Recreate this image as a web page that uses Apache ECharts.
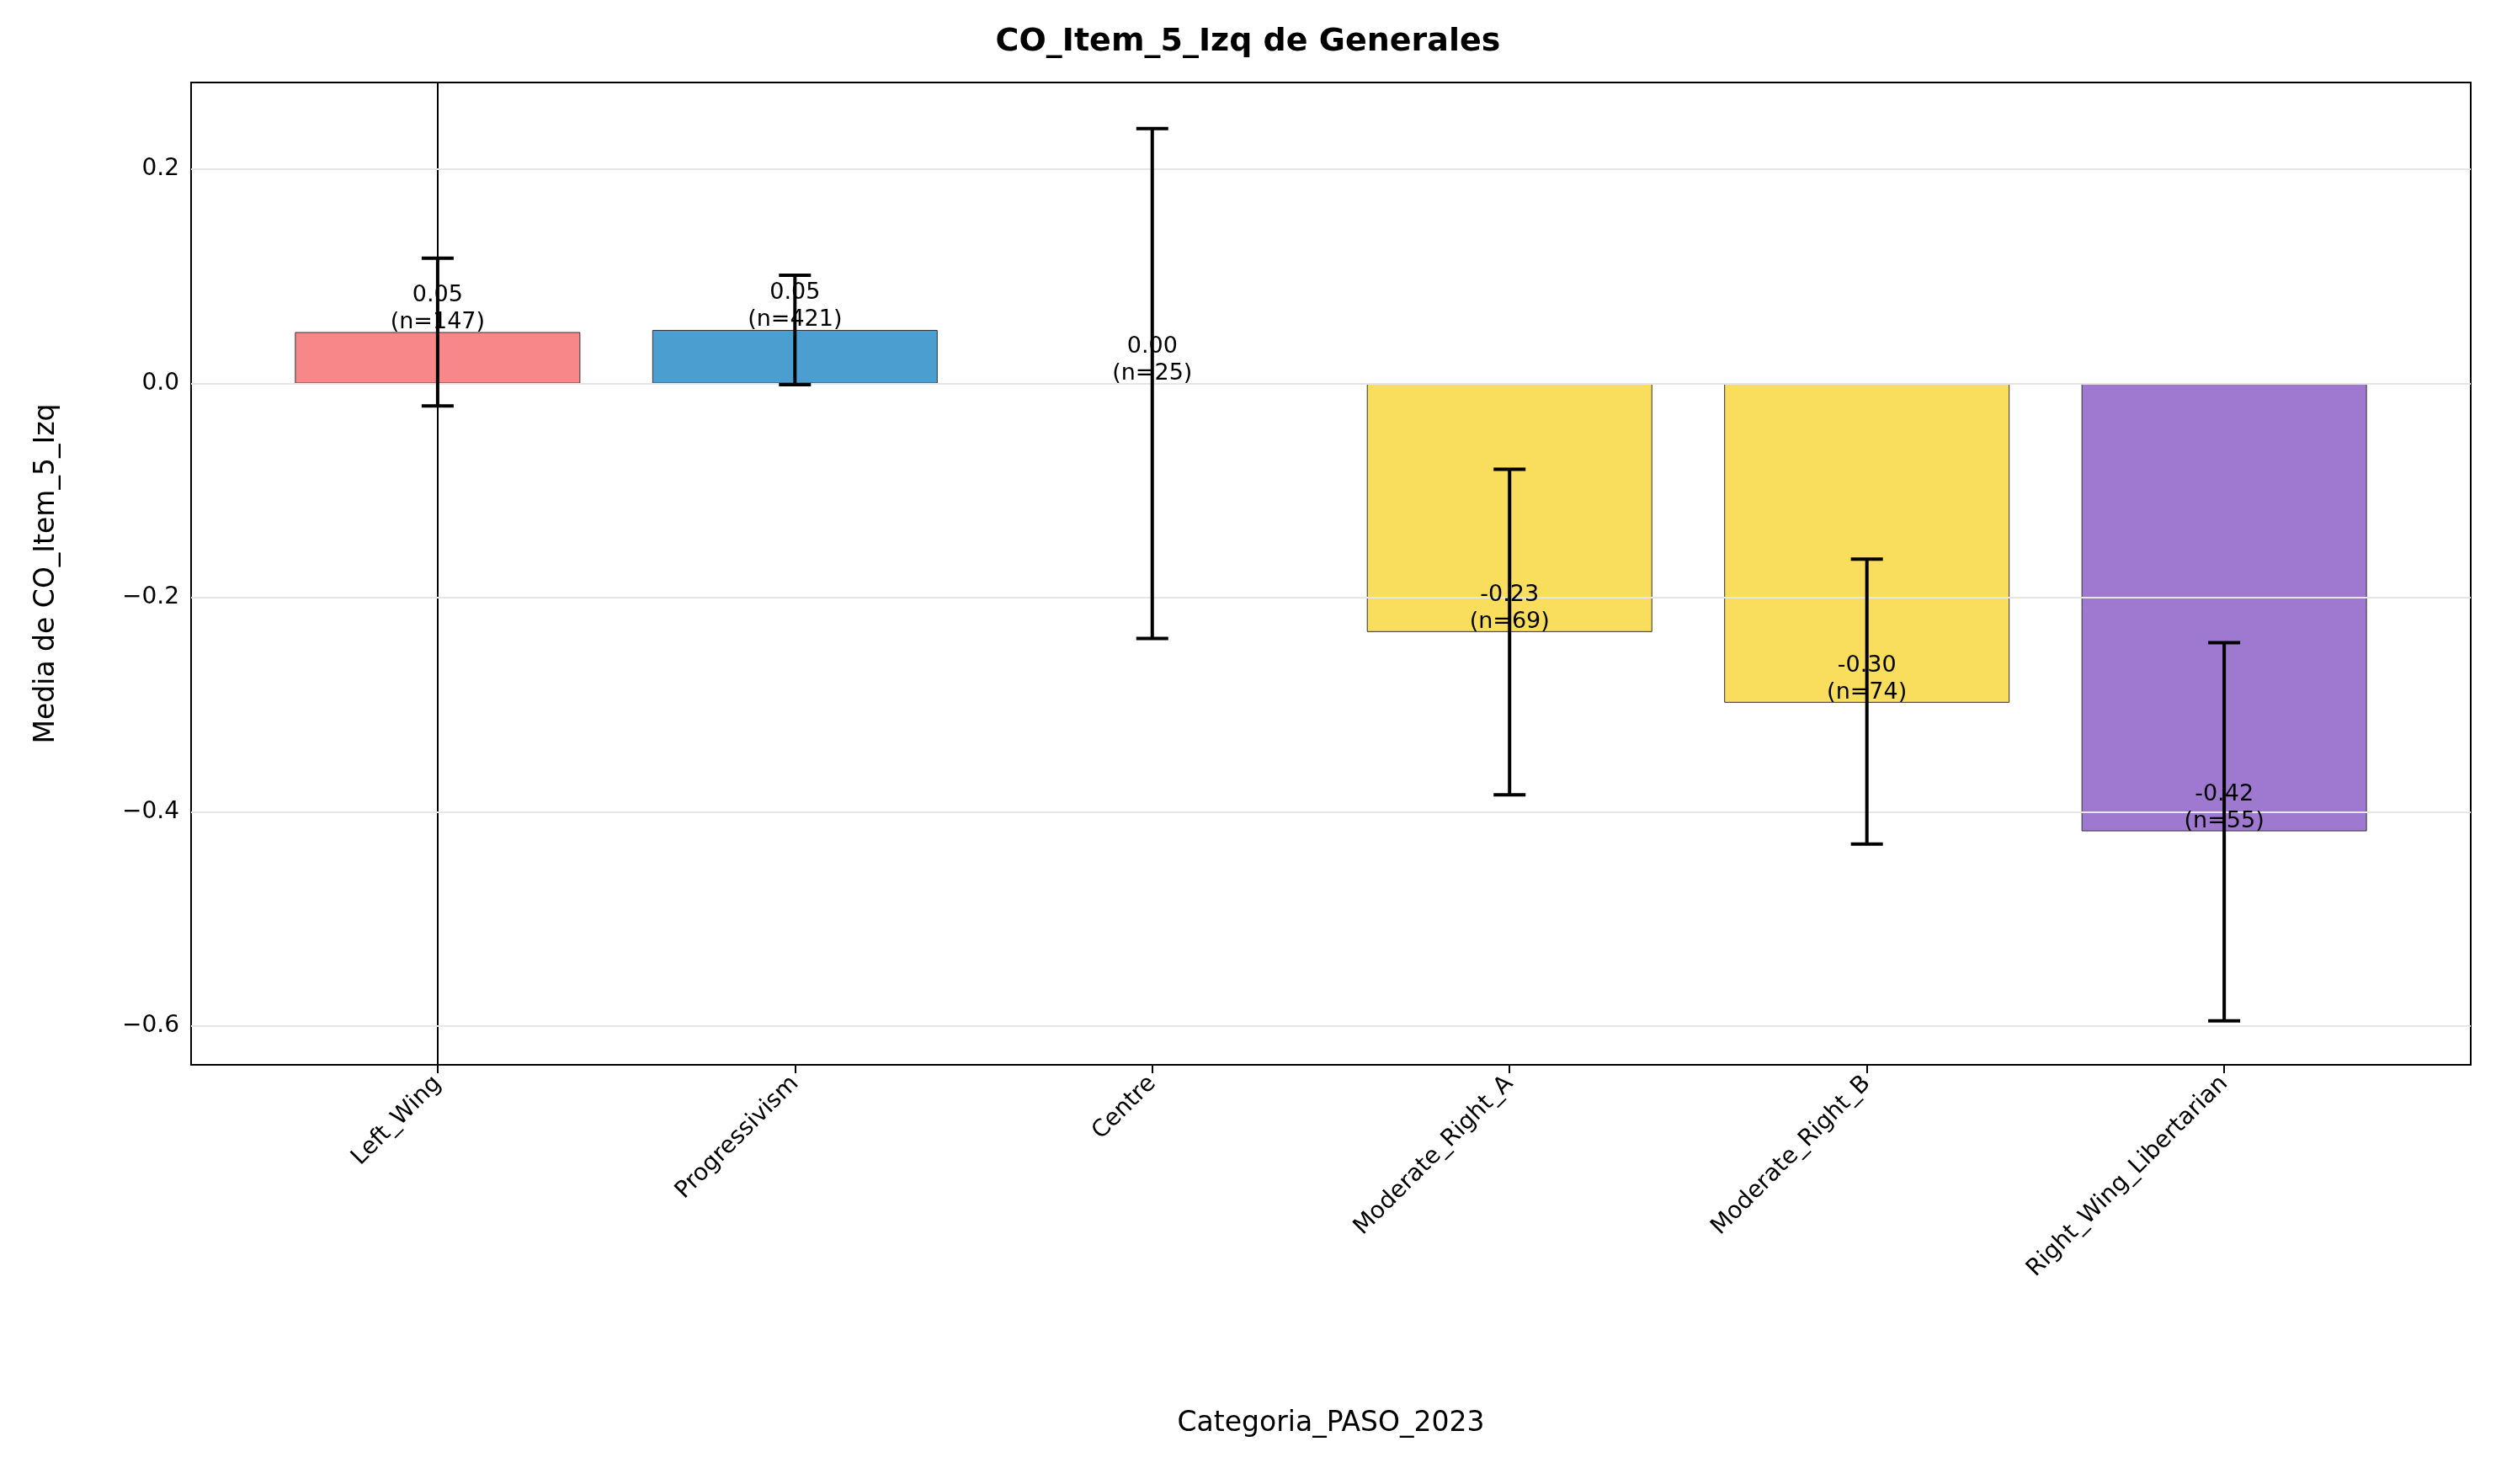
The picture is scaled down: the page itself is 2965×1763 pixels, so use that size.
<!DOCTYPE html>
<html><head><meta charset="utf-8">
<script src="https://cdn.jsdelivr.net/npm/echarts@6/dist/echarts.min.js"></script>
<style>html,body{margin:0;background:#fff}#c{width:2965px;height:1763px}</style>
</head><body><div id="c"></div>
<script>
const categories=['Left_Wing','Progressivism','Centre','Moderate_Right_A','Moderate_Right_B','Right_Wing_Libertarian'];
const means=[0.048,0.050,0.000,-0.232,-0.298,-0.418];
const errLow=[-0.021,-0.001,-0.238,-0.384,-0.430,-0.595];
const errHigh=[0.117,0.101,0.238,-0.080,-0.164,-0.242];
const counts=[147,421,25,69,74,55];
const labels=['0.05','0.05','0.00','-0.23','-0.30','-0.42'];
const colors=['#F8878A','#4A9FD0','#888888','#F8DE5C','#F8DE5C','#9F78D0'];
const yTicks=[0.2,0,-0.2,-0.4,-0.6];
const xTicks=[0,1,2,3,4,5];
const font='DejaVu Sans';
const chart=echarts.init(document.getElementById('c'));
chart.setOption({
  animation:false,
  title:{text:'CO_Item_5_Izq de Generales',left:'center',top:26,textStyle:{fontFamily:font,fontSize:38,fontWeight:'bold',color:'#000'}},
  grid:{left:227,right:30,top:98,bottom:498,show:true,borderColor:'#000',borderWidth:2},
  xAxis:{type:'value',min:-0.69,max:5.69,name:'Categoria_PASO_2023',nameLocation:'middle',nameGap:410,
    nameTextStyle:{fontFamily:font,fontSize:33,color:'#000'},
    axisLine:{onZero:false,lineStyle:{color:'#000',width:2}},
    axisTick:{length:10,lineStyle:{color:'#000',width:2},customValues:xTicks},
    axisLabel:{rotate:45,fontFamily:font,fontSize:28,color:'#000',margin:18,customValues:xTicks,formatter:v=>categories[Math.round(v)]},
    splitLine:{show:false}},
  yAxis:{type:'value',min:-0.636,max:0.281,name:'Media de CO_Item_5_Izq',nameLocation:'middle',nameGap:155,
    nameTextStyle:{fontFamily:font,fontSize:33,color:'#000'},
    axisLine:{show:true,lineStyle:{color:'#000',width:2}},
    axisTick:{show:true,length:10,lineStyle:{color:'#000',width:2},customValues:yTicks},
    axisLabel:{fontFamily:font,fontSize:28,color:'#000',margin:14,customValues:yTicks,
      formatter:v=>(v<0?'\u2212'+Math.abs(v).toFixed(1):v.toFixed(1))},
    splitLine:{show:false}},
  series:[
    {type:'line',data:[],z:0,silent:true,
     markLine:{silent:true,symbol:'none',label:{show:false},lineStyle:{color:'#e6e6e6',type:'solid',width:2},data:yTicks.map(y=>({yAxis:y}))}},
    {type:'bar',barWidth:339,data:means.map((v,i)=>({value:[i,v],itemStyle:{color:colors[i],borderColor:'#333',borderWidth:1}})),z:2},
    {type:'custom',z:5,data:categories.map((c,i)=>[i,errLow[i],errHigh[i],means[i]]),
     renderItem:(p,api)=>{
       const i=api.value(0);const lo=api.coord([i,api.value(1)]);const hi=api.coord([i,api.value(2)]);const m=api.coord([i,api.value(3)]);
       const x=lo[0],w=19,st={stroke:'#000',lineWidth:4};
       return {type:'group',children:[
         {type:'line',shape:{x1:x,y1:lo[1],x2:x,y2:hi[1]},style:st},
         {type:'line',shape:{x1:x-w,y1:lo[1],x2:x+w,y2:lo[1]},style:st},
         {type:'line',shape:{x1:x-w,y1:hi[1],x2:x+w,y2:hi[1]},style:st},
         {type:'text',x:x,y:m[1]+4,style:{text:labels[i]+'\n(n='+counts[i]+')',textAlign:'center',textVerticalAlign:'bottom',fontFamily:font,fontSize:27,fill:'#000',lineHeight:32}}
       ]};
     }}
  ]
});
</script></body></html>
